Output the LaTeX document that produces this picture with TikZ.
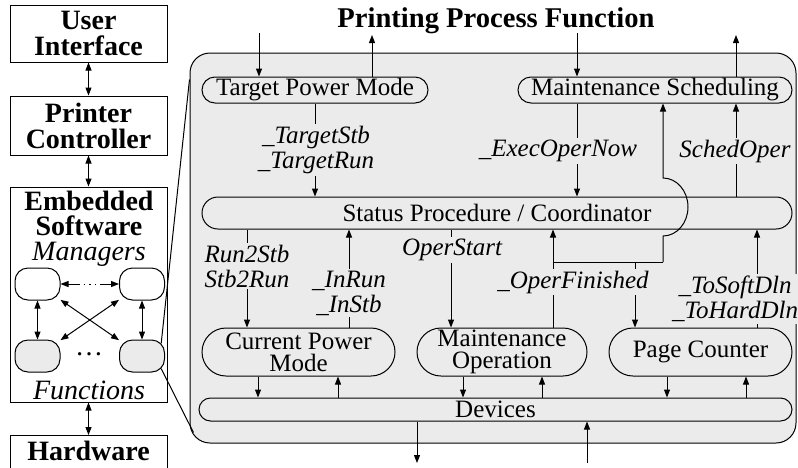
\documentclass[tikz,border=0pt]{standalone}
\usepackage{fontspec}
\setmainfont{Liberation Serif}
\usetikzlibrary{positioning}
\usetikzlibrary{shapes.misc,shapes}
\usetikzlibrary{arrows.meta}
\definecolor{boxgray}{RGB}{235,235,235}

\begin{document}
\begin{tikzpicture}[x=0.5pt,y=-0.5pt,line width=0.5pt,
	>={Triangle[length=4pt,width=3pt]},
	layer/.style={draw,align=center,inner sep=0pt,minimum width=78.5pt,font=\fontsize{14}{13}\selectfont\bfseries},
	mgr/.style={draw,rounded corners=6.5pt,minimum width=22.5pt,minimum height=16pt},
	block/.style={draw,align=center,inner sep=0pt,font=\fontsize{12.5}{11}\selectfont},
	sig/.style={fill=boxgray,align=center,inner sep=1pt,font=\fontsize{12.5}{12.5}\selectfont\itshape}]
	\useasboundingbox (0,0) rectangle (798,467);

	% left column
	\node[layer,minimum height=28.5pt] (ui) at (88.5,33.5) {User\\Interface};
	\node[layer,minimum height=29.5pt] (pc) at (88.5,125.5) {Printer\\Controller};
	\node[layer,minimum height=107.5pt] (es) at (88.5,294.5) {};
	\node[layer,anchor=north,inner ysep=2.5pt,text height=10pt,text depth=20pt] (hw) at (88.5,435) {Hardware};
	\node[font=\fontsize{14}{12.5}\selectfont\bfseries,align=center] (estxt) at (89,213) {Embedded\\Software};
	\node[font=\fontsize{14}{16}\selectfont\itshape] (mgrtxt) at (89,254) {Managers};
	\node[font=\fontsize{14}{16}\selectfont\itshape] (funtxt) at (89,390) {Functions};
	\node[font=\fontsize{14}{16}\selectfont] (dots) at (89,354) {\dots};

	\draw[<->] (ui) -- (pc);
	\draw[<->] (pc) -- (es);
	\draw[<->] (es) -- (hw);

	% managers and functions
	\foreach \i/\x in {0/37.5,1/142} \node[mgr] (mgr\i) at (\x,284) {};
	\foreach \i/\x in {0/37.5,1/142} \node[mgr,fill=boxgray] (fun\i) at (\x,356) {};

	\draw[<->,dash pattern=on 5.7pt off 2pt on 0.8pt off 2pt on 0.8pt off 2pt on 0.8pt off 2pt on 8pt] (mgr0) -- (mgr1);
	\foreach \i in {0,1} \draw[<->] (mgr\i) -- (fun\i);
	\draw[<->] (mgr0) -- (fun1);
	\draw[<->] (mgr1) -- (fun0);

	% printing process function
	\node[draw,rounded corners=10pt,fill=boxgray,minimum width=303pt,minimum height=195pt] (ppf) at (493,248) {};
	\node[font=\fontsize{14.3}{16}\selectfont\bfseries] (title) at (496,21) {Printing Process Function};

	\draw ([xshift=-1.9pt,yshift=-1.9pt]fun1.north east) -- ([yshift=-13.5pt]ppf.north west);
	\draw ([xshift=-1.9pt,yshift=1.9pt]fun1.south east) -- ([xshift=2pt,yshift=5.5pt]ppf.south west);

	\node[block,minimum width=113pt,minimum height=13pt,rounded corners=6.5pt] (tpm) at (315,90) {Target Power Mode};
	\node[block,minimum width=137pt,minimum height=13pt,rounded corners=6.5pt] (msch) at (655,90) {Maintenance Scheduling};
	\node[block,minimum width=295pt,minimum height=16pt,rounded corners=8pt] (status) at (497,213) {Status Procedure / Coordinator};
	\node[block,minimum width=96.5pt,minimum height=24pt,rounded corners=12pt] (cpm) at (298.5,352) {Current Power\\Mode};
	\node[block,minimum width=85pt,minimum height=24pt,rounded corners=12pt] (mop) at (502,352) {Maintenance\\Operation};
	\node[block,minimum width=91.5pt,minimum height=24pt,rounded corners=12pt] (pcnt) at (700.5,352) {Page Counter};
	\node[block,minimum width=296.5pt,minimum height=11.5pt,rounded corners=5.75pt] (dev) at (495.5,409.5) {Devices};

	% outside connectors
	\coordinate (tin) at (259,33);
	\coordinate (tout) at (372,35);
	\coordinate (sin) at (577,33);
	\coordinate (sout) at (736,35);
	\coordinate (dout) at (417,463);
	\coordinate (din) at (587,463);
	\draw[->] (tin) -- (tin |- tpm.north);
	\draw[->] (tout |- tpm.north) -- (tout);
	\draw[->] (sin) -- (sin |- msch.north);
	\draw[->] (sout |- msch.north) -- (sout);
	\draw[->] (dout |- dev.south) -- (dout);
	\draw[->] (din) -- (din |- dev.south);

	% connectors upper row <-> status
	\draw[->] (tpm) -- (tpm |- status.north);
	\draw[->] (sin |- msch.south) -- (sin |- status.north);
	\draw[->] (sout |- status.north) -- (sout |- msch.south);

	% connectors status <-> lower row
	\foreach \n/\x in {r2s/247,inr/349,ost/451,ofin/553,dln/757,pgc/635,hop/663} \coordinate (\n) at (\x,262);
	\draw[->] (status.south -| r2s) -- (cpm.north -| r2s);
	\draw[->] (cpm.north -| inr) -- (status.south -| inr);
	\draw[->] (status.south -| ost) -- (mop.north -| ost);
	\draw[->] (mop.north -| ofin) -- (status.south -| ofin);
	\draw[->] (pcnt.north -| dln) -- (status.south -| dln);
	\draw (ofin) -- (hop);
	\draw[->] (pgc) -- (pcnt.north -| pgc);
	\draw[->] (hop) -- ++(0,-26) arc[start angle=90,end angle=-90,x radius=25,y radius=29] -- (msch.south -| hop);

	% connectors lower row <-> devices
	\foreach \n/\d/\u in {cpm/-20.25/19.75,mop/-19.5/20,pcnt/-16.75/22.75} {
		\draw[->] ([xshift=\d pt]\n.south) -- ([xshift=\d pt]\n.south |- dev.north);
		\draw[->] ([xshift=\u pt]\n.south |- dev.north) -- ([xshift=\u pt]\n.south);
	}

	% labels
	\node[sig] (ltgt) at (316,150) {\_TargetStb\\\_TargetRun};
	\node[sig] (lexec) at (558,151) {\_ExecOperNow};
	\node[sig] (lsched) at (735,151) {SchedOper};
	\node[sig] (lr2s) at (247,266) {Run2Stb\\Stb2Run};
	\node[sig] (lin) at (349,293) {\_InRun\\\_InStb};
	\node[sig] (lstart) at (452,250) {OperStart};
	\node[sig] (lfin) at (573,282) {\_OperFinished};
	\node[sig] (ldln) at (735,299) {\_ToSoftDln\\\_ToHardDln};
\end{tikzpicture}
\end{document}
